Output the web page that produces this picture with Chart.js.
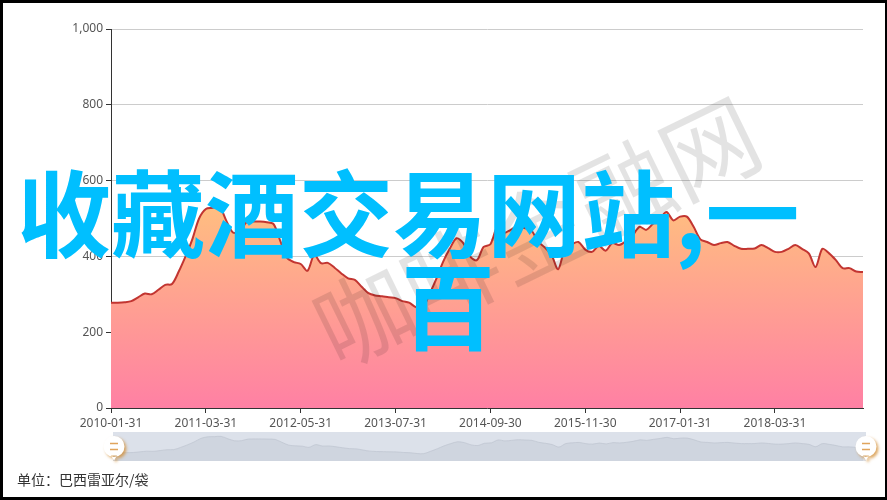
<!DOCTYPE html>
<html>
<head>
<meta charset="utf-8">
<script src="https://cdn.jsdelivr.net/npm/chart.js@4.4.1/dist/chart.umd.min.js"></script>
<style>
  html, body { margin: 0; padding: 0; background: #fff; }
  #page { position: relative; width: 887px; height: 500px; overflow: hidden; }
  canvas { position: absolute; left: 0; }
  #mainChart { top: 0; }
  #zoomChart { top: 425px; }
  .unit { position: absolute; left: 17px; top: 469px; font: 14px "Noto Sans CJK SC", sans-serif; color: #333; }
  .mark { position: absolute; left: 535px; top: 228px; transform: translate(-50%, -50%) rotate(-26deg);
          font: 96px/1 "Noto Sans CJK SC", sans-serif; color: rgba(0,0,0,0.11); white-space: nowrap; }
  .big { position: absolute; font: bold 94px/94px "Noto Sans CJK SC", sans-serif; color: #00bfff; white-space: nowrap; }
  .l1 { left: 17px; top: 162px; }
  .l2 { left: 401px; top: 255px; }
  .frame { position: absolute; left: 0; top: 0; width: 887px; height: 500px; box-sizing: border-box;
           border: 3px solid #000; border-right-width: 2px; pointer-events: none; }
</style>
</head>
<body>
<div id="page">
  <canvas id="mainChart" width="887" height="440"></canvas>
  <canvas id="zoomChart" width="887" height="50"></canvas>
  <div class="unit">单位：巴西雷亚尔/袋</div>
  <div class="mark">咖啡金融网</div>
  <div class="big l1">收藏酒交易网站,一</div>
  <div class="big l2">百</div>
  <div class="frame"></div>
</div>
<script>
// ---------- DATA ----------
const months = [
  "2010-01-31","2010-02-28","2010-03-31","2010-04-30","2010-05-31","2010-06-30","2010-07-31","2010-08-31","2010-09-30","2010-10-31","2010-11-30","2010-12-31",
  "2011-01-31","2011-02-28","2011-03-31","2011-04-30","2011-05-31","2011-06-30","2011-07-31","2011-08-31","2011-09-30","2011-10-31","2011-11-30","2011-12-31",
  "2012-01-31","2012-02-29","2012-03-31","2012-04-30","2012-05-31","2012-06-30","2012-07-31","2012-08-31","2012-09-30","2012-10-31","2012-11-30","2012-12-31",
  "2013-01-31","2013-02-28","2013-03-31","2013-04-30","2013-05-31","2013-06-30","2013-07-31","2013-08-31","2013-09-30","2013-10-31","2013-11-30","2013-12-31",
  "2014-01-31","2014-02-28","2014-03-31","2014-04-30","2014-05-31","2014-06-30","2014-07-31","2014-08-31","2014-09-30","2014-10-31","2014-11-30","2014-12-31",
  "2015-01-31","2015-02-28","2015-03-31","2015-04-30","2015-05-31","2015-06-30","2015-07-31","2015-08-31","2015-09-30","2015-10-31","2015-11-30","2015-12-31",
  "2016-01-31","2016-02-29","2016-03-31","2016-04-30","2016-05-31","2016-06-30","2016-07-31","2016-08-31","2016-09-30","2016-10-31","2016-11-30","2016-12-31",
  "2017-01-31","2017-02-28","2017-03-31","2017-04-30","2017-05-31","2017-06-30","2017-07-31","2017-08-31","2017-09-30","2017-10-31","2017-11-30","2017-12-31",
  "2018-01-31","2018-02-28","2018-03-31","2018-04-30","2018-05-31","2018-06-30","2018-07-31","2018-08-31","2018-09-30","2018-10-31","2018-11-30","2018-12-31",
  "2019-01-31","2019-02-28","2019-03-31","2019-04-30"
];

const prices = [
  278, 278, 279, 282, 292, 302, 300, 312, 325, 327,
  360, 400, 445, 500, 525, 528, 532, 495, 463, 465,
  490, 492, 492, 490, 485, 440, 396, 385, 380, 362,
  404, 382, 383, 370, 355, 342, 338, 320, 303, 297,
  295, 292, 290, 282, 278, 266, 264, 300, 340, 385,
  420, 448, 435, 400, 390, 425, 432, 476, 462, 470,
  480, 475, 470, 440, 424, 405, 366, 420, 432, 438,
  418, 412, 428, 415, 435, 430, 440, 455, 478, 470,
  486, 500, 517, 495, 505, 505, 478, 445, 438, 430,
  435, 438, 428, 420, 420, 421, 430, 422, 412, 412,
  420, 430, 420, 408, 372, 420, 408, 390, 369, 369,
  360, 359
];

const yTicks = [0, 200, 400, 600, 800, 1000];
const labelEvery = 14;

// ---------- MAIN CHART ----------
const axisFont = { family: "Noto Sans", size: 12 };

function areaFill(ctx) {
  const chart = ctx.chart;
  const area = chart.chartArea;
  if (!area) return "#ffa88c";
  const y = chart.scales.y;
  const g = chart.ctx.createLinearGradient(0, y.getPixelForValue(Math.max(...prices)), 0, area.bottom);
  g.addColorStop(0, "rgb(255,190,128)");
  g.addColorStop(1, "rgb(255,128,164)");
  return g;
}

new Chart(document.getElementById("mainChart"), {
  type: "line",
  data: {
    labels: months,
    datasets: [{
      data: prices,
      borderColor: "#c23531",
      borderWidth: 2,
      backgroundColor: areaFill,
      fill: "origin",
      pointRadius: 0,
      tension: 0.3
    }]
  },
  options: {
    responsive: false,
    animation: false,
    layout: { padding: { top: 29, right: 24, left: 0, bottom: 0 } },
    plugins: { legend: { display: false }, tooltip: { enabled: false } },
    scales: {
      x: {
        type: "category",
        offset: false,
        afterFit: s => { s.height = 32; },
        afterBuildTicks: s => { s.ticks = s.ticks.filter(t => t.value % labelEvery === 0); },
        ticks: { autoSkip: false, maxRotation: 0, color: "#555", font: axisFont, padding: 3 },
        grid: { drawOnChartArea: false, tickColor: "#333", tickLength: 5 },
        border: { color: "#333" }
      },
      y: {
        min: 0,
        max: 1000,
        afterFit: s => { s.width = 111; },
        afterBuildTicks: s => { s.ticks = yTicks.map(v => ({ value: v })); },
        ticks: { color: "#555", font: axisFont, padding: 3 },
        grid: { color: "#ccc", tickColor: "#333", tickLength: 5 },
        border: { color: "#333" }
      }
    }
  }
});

// ---------- DATA ZOOM SLIDER ----------
const sliderLook = {
  id: "sliderLook",
  beforeDraw(chart) {
    const { ctx, chartArea: a } = chart;
    ctx.save();
    ctx.fillStyle = "#dce1ea";
    ctx.fillRect(a.left, a.top, a.right - a.left + 3, a.bottom - a.top);
    ctx.restore();
  },
  afterDraw(chart) {
    const { ctx, chartArea: a } = chart;
    const cy = (a.top + a.bottom) / 2;
    [a.left + 1, a.right + 3].forEach(cx => {
      ctx.save();
      ctx.shadowColor = "rgba(210,140,50,0.75)";
      ctx.shadowBlur = 3;
      ctx.shadowOffsetX = 2;
      ctx.shadowOffsetY = 2;
      ctx.fillStyle = "#fff";
      ctx.beginPath();
      ctx.arc(cx, cy, 10.5, 0, Math.PI * 2);
      ctx.moveTo(cx - 3, cy + 9);
      ctx.lineTo(cx, cy + 14);
      ctx.lineTo(cx + 3, cy + 9);
      ctx.fill();
      ctx.restore();
      ctx.save();
      ctx.strokeStyle = "#e0a45c";
      ctx.lineWidth = 1.5;
      ctx.beginPath();
      ctx.moveTo(cx - 4, cy - 3); ctx.lineTo(cx + 4, cy - 3);
      ctx.moveTo(cx - 4, cy + 3); ctx.lineTo(cx + 4, cy + 3);
      ctx.stroke();
      ctx.restore();
    });
  }
};

new Chart(document.getElementById("zoomChart"), {
  type: "line",
  data: {
    labels: months,
    datasets: [{
      data: prices,
      borderColor: "#c0c7d2",
      borderWidth: 0.8,
      backgroundColor: "#cfd5df",
      fill: "start",
      pointRadius: 0,
      tension: 0.3
    }]
  },
  options: {
    responsive: false,
    animation: false,
    layout: { padding: { top: 7, right: 24, left: 113, bottom: 14 } },
    plugins: { legend: { display: false }, tooltip: { enabled: false } },
    scales: {
      x: { display: false, offset: false },
      y: { display: false, min: 150, max: 600 }
    }
  },
  plugins: [sliderLook]
});
</script>
</body>
</html>
